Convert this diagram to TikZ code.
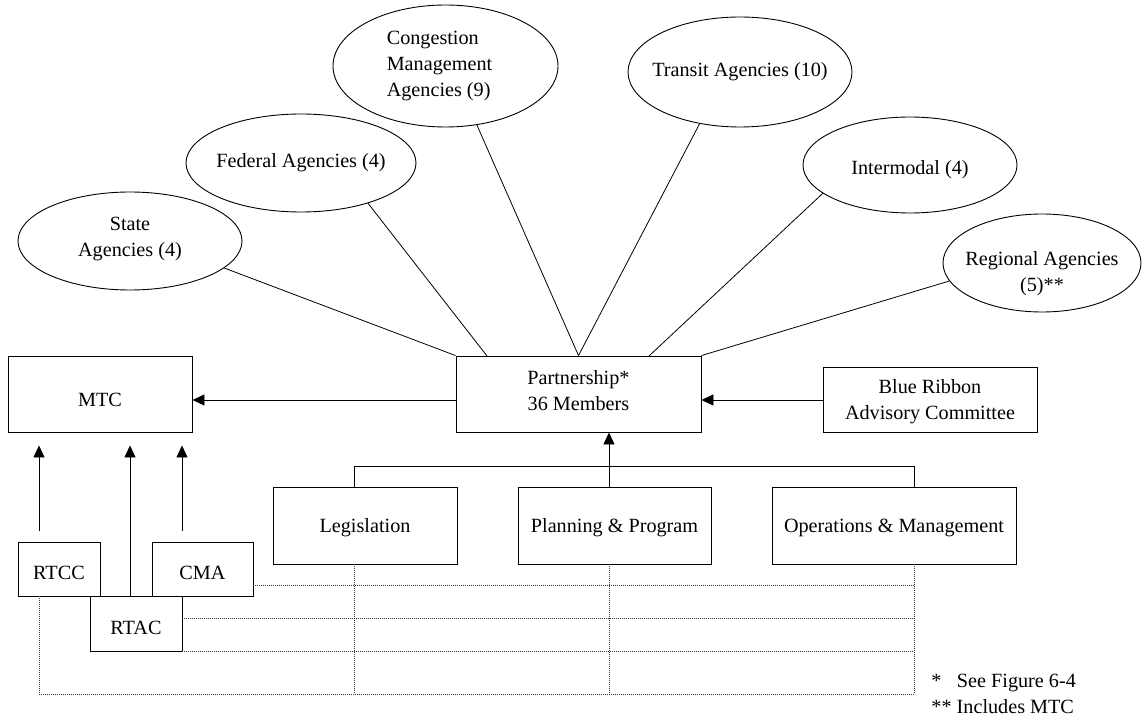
\documentclass[tikz,border=0pt]{standalone}
\usepackage{fontspec}
\setmainfont{Liberation Serif}
\usetikzlibrary{shapes.geometric,arrows.meta,calc}
\newcommand\diafont{\fontsize{20.2}{26}\selectfont}
\begin{document}
\begin{tikzpicture}[x=1pt,y=-1pt,
  line width=0.9pt,
  every label/.style={font=\diafont, align=center, inner sep=0pt},
  ell/.style={ellipse, draw, inner sep=0pt},
  box/.style={rectangle, draw, inner sep=0pt},
  arr/.style={-{Triangle[length=12pt,width=11pt]}},
  grid/.style={line width=0.8pt, black!80, dash pattern=on 1pt off 1pt},
  spoke/.style={line width=0.8pt}]
\useasboundingbox (0,0) rectangle (1143,719);

% member groups
\node[ell, minimum width=224pt, minimum height=98pt,
      label={[yshift=2pt]center:State\\Agencies (4)}] (state) at (130,241) {};
\node[ell, minimum width=230pt, minimum height=98pt,
      label={center:Federal Agencies (4)}] (fed) at (301,163) {};
\node[ell, minimum width=225pt, minimum height=122pt,
      label={[align=left,xshift=-6pt]center:Congestion\\Management\\Agencies (9)}] (cong) at (445.5,66) {};
\node[ell, minimum width=224pt, minimum height=110pt,
      label={center:Transit Agencies (10)}] (transit) at (740,72) {};
\node[ell, minimum width=214pt, minimum height=96pt,
      label={[yshift=-5pt]center:Intermodal (4)}] (inter) at (910,165) {};
\node[ell, minimum width=198pt, minimum height=98pt,
      label={[yshift=-11pt]center:Regional Agencies\\(5)**}] (reg) at (1042,263) {};

% boxes
\node[box, minimum width=184pt, minimum height=76pt,
      label={[yshift=-5.5pt]center:MTC}] (mtc) at (100,394) {};
\node[box, minimum width=245pt, minimum height=76pt,
      label={[yshift=3pt]center:Partnership*\\36 Members}] (part) at (578.5,394) {};
\node[box, minimum width=214pt, minimum height=65pt,
      label={[yshift=-2pt]center:Blue Ribbon\\Advisory Committee}] (blue) at (930,399.5) {};
\node[box, minimum width=184pt, minimum height=77pt,
      label={[yshift=-2pt]center:Legislation}] (leg) at (365,525.5) {};
\node[box, minimum width=193pt, minimum height=77pt,
      label={[yshift=-2pt]center:Planning \& Program}] (plan) at (614.5,525.5) {};
\node[box, minimum width=244pt, minimum height=77pt,
      label={[yshift=-2pt]center:Operations \& Management}] (ops) at (894,525.5) {};
\node[box, minimum width=82pt, minimum height=54pt,
      label={[yshift=-4pt]center:RTCC}] (rtcc) at (59,569) {};
\node[box, minimum width=101pt, minimum height=54pt,
      label={[yshift=-4pt]center:CMA}] (cma) at (202.5,569) {};
\node[box, minimum width=92pt, minimum height=55pt,
      label={[yshift=-4pt]center:RTAC}] (rtac) at (136,623.5) {};

% guide coordinates
\coordinate (rowArr) at (0,400);
\coordinate (rowBus) at (0,466);
\coordinate (rowG1) at (0,585);
\coordinate (rowG2) at (0,618);
\coordinate (rowG4) at (0,694);
\coordinate (colA) at (39,0);
\coordinate (colB) at (130,0);
\coordinate (colC) at (182,0);
\coordinate (colL) at (354,0);
\coordinate (colP) at (609,0);
\coordinate (colO) at (914,0);
\coordinate (fedEnd) at (487,356);
\coordinate (interEnd) at (649,356);

% spokes into the partnership
\draw[spoke] (state.-16) -- (part.north west);
\draw[spoke] (fed.-31) -- (fedEnd);
\draw[spoke] (cong.-62) -- (part.north);
\draw[spoke] (transit.-128) -- (part.north);
\draw[spoke] (inter.-162) -- (interEnd);
\draw[spoke] (reg.-169) -- (part.north east);

% horizontal arrows
\draw[arr] (part.west |- rowArr) -- (mtc.east |- rowArr);
\draw[arr] (blue.west |- rowArr) -- (part.east |- rowArr);

% committees feeding the partnership
\draw (leg.north -| colL) -- (colL |- rowBus) -- (colO |- rowBus) -- (ops.north -| colO);
\draw[arr] (plan.north -| colP) -- (part.south -| colP);

% arrows up to MTC
\draw[arr, shorten <=11pt, shorten >=13pt] (rtcc.north -| colA) -- (mtc.south -| colA);
\draw[arr, shorten >=13pt] (rtac.north -| colB) -- (mtc.south -| colB);
\draw[arr, shorten <=11pt, shorten >=13pt] (cma.north -| colC) -- (mtc.south -| colC);

% dotted matrix
\draw[grid] (cma.east |- rowG1) -- (colO |- rowG1);
\draw[grid] (rtac.east |- rowG2) -- (colO |- rowG2);
\draw[grid] (rtac.south east) -- (colO |- rtac.south east);
\draw[grid] (rtcc.south -| colA) -- (colA |- rowG4) -- (colO |- rowG4);
\draw[grid] (leg.south -| colL) -- (colL |- rowG4);
\draw[grid] (plan.south -| colP) -- (colP |- rowG4);
\draw[grid] (ops.south -| colO) -- (colO |- rowG4);

% footnotes
\node[anchor=north west, align=left, inner sep=0pt,
      font=\fontsize{20.2}{26}\selectfont] (notes) at (931,674)
  {\makebox[25.5pt][l]{*}See Figure 6-4\\** Includes MTC};
\end{tikzpicture}
\end{document}
